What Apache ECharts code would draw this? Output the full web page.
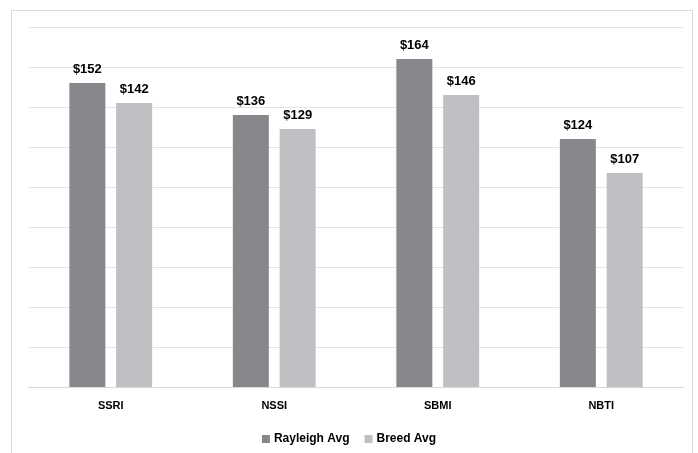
<!DOCTYPE html>
<html><head><meta charset="utf-8">
<script src="https://cdn.jsdelivr.net/npm/echarts@6/dist/echarts.min.js"></script>
<style>html,body{margin:0;padding:0;background:#fff}#c{width:698px;height:453px}</style>
</head><body><div id="c"></div>
<script>
const categories = ['SSRI', 'NSSI', 'SBMI', 'NBTI'];
const rayleighAvg = [152, 136, 164, 124];
const breedAvg = [142, 129, 146, 107];
const seriesNames = ['Rayleigh Avg', 'Breed Avg'];

const font = '"Liberation Sans", Arial, sans-serif';
const chart = echarts.init(document.getElementById('c'), null, {renderer: 'canvas'});
const lbl = {show: true, position: 'top', distance: 7, formatter: p => '$' + p.value,
  color: '#000', fontWeight: 'bold', fontSize: 13, fontFamily: font};
chart.setOption({
  animation: false,
  backgroundColor: '#fff',
  graphic: [{type: 'rect', shape: {x: 11.5, y: 10.5, width: 681, height: 460},
    style: {fill: 'none', stroke: '#d9d9d9', lineWidth: 1}, silent: true, z: -1}],
  grid: {left: 29, right: 15, top: 27, bottom: 66, containLabel: false},
  legend: {top: 428, left: 'center', itemWidth: 8, itemHeight: 8, itemGap: 15,
    icon: 'rect', data: seriesNames,
    textStyle: {fontFamily: font, fontWeight: 'bold', fontSize: 12, color: '#000', padding: [0, 0, 0, -1]}},
  xAxis: {type: 'category', data: categories,
    axisLine: {lineStyle: {color: '#d9d9d9', width: 1}}, axisTick: {show: false},
    axisLabel: {color: '#000', fontWeight: 'bold', fontSize: 11, fontFamily: font, margin: 13}},
  yAxis: {type: 'value', min: 0, max: 180, interval: 20,
    axisLabel: {show: false}, axisLine: {show: false}, axisTick: {show: false},
    splitLine: {lineStyle: {color: '#e4e4e4', width: 1}}},
  series: [
    {name: seriesNames[0], type: 'bar', data: rayleighAvg, barWidth: 36, barGap: '30%',
      itemStyle: {color: '#87888b'}, label: lbl},
    {name: seriesNames[1], type: 'bar', data: breedAvg, barWidth: 36,
      itemStyle: {color: '#bfc0c3'}, label: lbl}
  ]
});
</script></body></html>
